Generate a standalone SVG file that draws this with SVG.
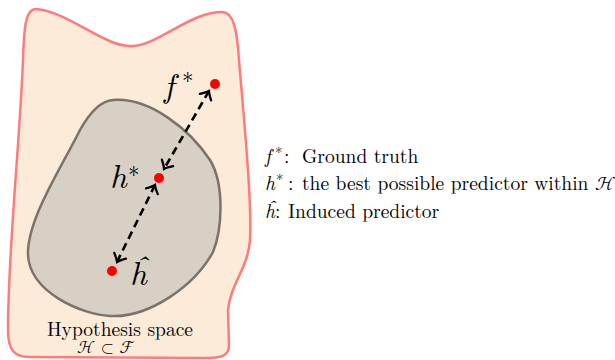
<svg xmlns="http://www.w3.org/2000/svg" width="615" height="360" viewBox="0 0 615 360" font-family="Latin Modern Roman, Liberation Serif, serif">
<style>
.conn{stroke:#000;stroke-width:2.6;stroke-dasharray:8 5;fill:none}
.dot{fill:#ff0000}
</style>
<defs>
<marker id="tip" markerUnits="userSpaceOnUse" viewBox="-10 -8 12 16" markerWidth="12" markerHeight="16" refX="0" refY="0" orient="auto-start-reverse">
<path d="M -7 -6.5 Q -2.5 -1.5 0 0 Q -2.5 1.5 -7 6.5" fill="none" stroke="#000" stroke-width="2.3" stroke-linecap="round"/>
</marker>
</defs>
<g id="space-F">
<path d="M 36 9 C 70 12, 105 48, 133 46 C 160 44, 190 12, 222 12 C 233 12, 237 28, 239 60 C 244 120, 252 200, 250 240 C 248 268, 230 285, 228 310 L 229 345 C 229 356, 222 358, 205 358 L 30 357 C 14 357, 8 350, 8 330 C 8 250, 20 140, 23 60 C 24 35, 24 9, 36 9 Z" fill="#fdebd9" stroke="#ff7b7b" stroke-width="2.5"/>
<text x="120" y="336" font-size="19.5" text-anchor="middle">Hypothesis space</text>
<text x="106" y="353" font-size="17" text-anchor="middle" font-family="Latin Modern Math, Latin Modern Roman, serif">ℋ ⊂ ℱ</text>
</g>
<g id="space-H">
<path d="M 113 100 C 150 97, 190 130, 210 160 C 225 185, 222 230, 213 252 C 195 285, 150 318, 110 316 C 80 314, 30 292, 28 255 C 27 220, 60 170, 80 130 C 90 112, 100 101, 113 100 Z" fill="#d8d0c5" stroke="#7b736b" stroke-width="2.5"/>
</g>
<g id="connectors">
<line class="conn" x1="209" y1="91" x2="164" y2="169" marker-start="url(#tip)" marker-end="url(#tip)"/>
<line class="conn" x1="155" y1="185" x2="117" y2="262" marker-start="url(#tip)" marker-end="url(#tip)"/>
</g>
<g id="f-star">
<circle class="dot" cx="215" cy="84" r="5"/>
<text x="164" y="97" font-size="33"><tspan font-style="italic">f</tspan><tspan font-size="23" x="182" dy="-8">*</tspan></text>
</g>
<g id="h-star">
<circle class="dot" cx="159" cy="178" r="5"/>
<text x="110" y="188" font-size="33"><tspan font-style="italic">h</tspan><tspan font-size="23" dx="1" dy="-5">*</tspan></text>
</g>
<g id="h-hat">
<circle class="dot" cx="112" cy="271" r="5"/>
<text x="130" y="285" font-size="33" font-style="italic">ĥ</text>
</g>
<g id="legend" font-size="19.5">
<text x="265" y="163"><tspan font-style="italic">f</tspan><tspan font-size="15" x="275" dy="-5">*</tspan><tspan x="284" dy="5">:</tspan><tspan x="302">Ground truth</tspan></text>
<text x="265" y="190"><tspan font-style="italic">h</tspan><tspan font-size="15" x="276" dy="-5">*</tspan><tspan x="288" dy="5">:</tspan><tspan x="302">the best possible predictor within </tspan><tspan font-family="Latin Modern Math, Latin Modern Roman, serif">ℋ</tspan></text>
<text x="265" y="218"><tspan font-style="italic">ĥ</tspan><tspan x="275">:</tspan><tspan x="288">Induced predictor</tspan></text>
</g>
</svg>
